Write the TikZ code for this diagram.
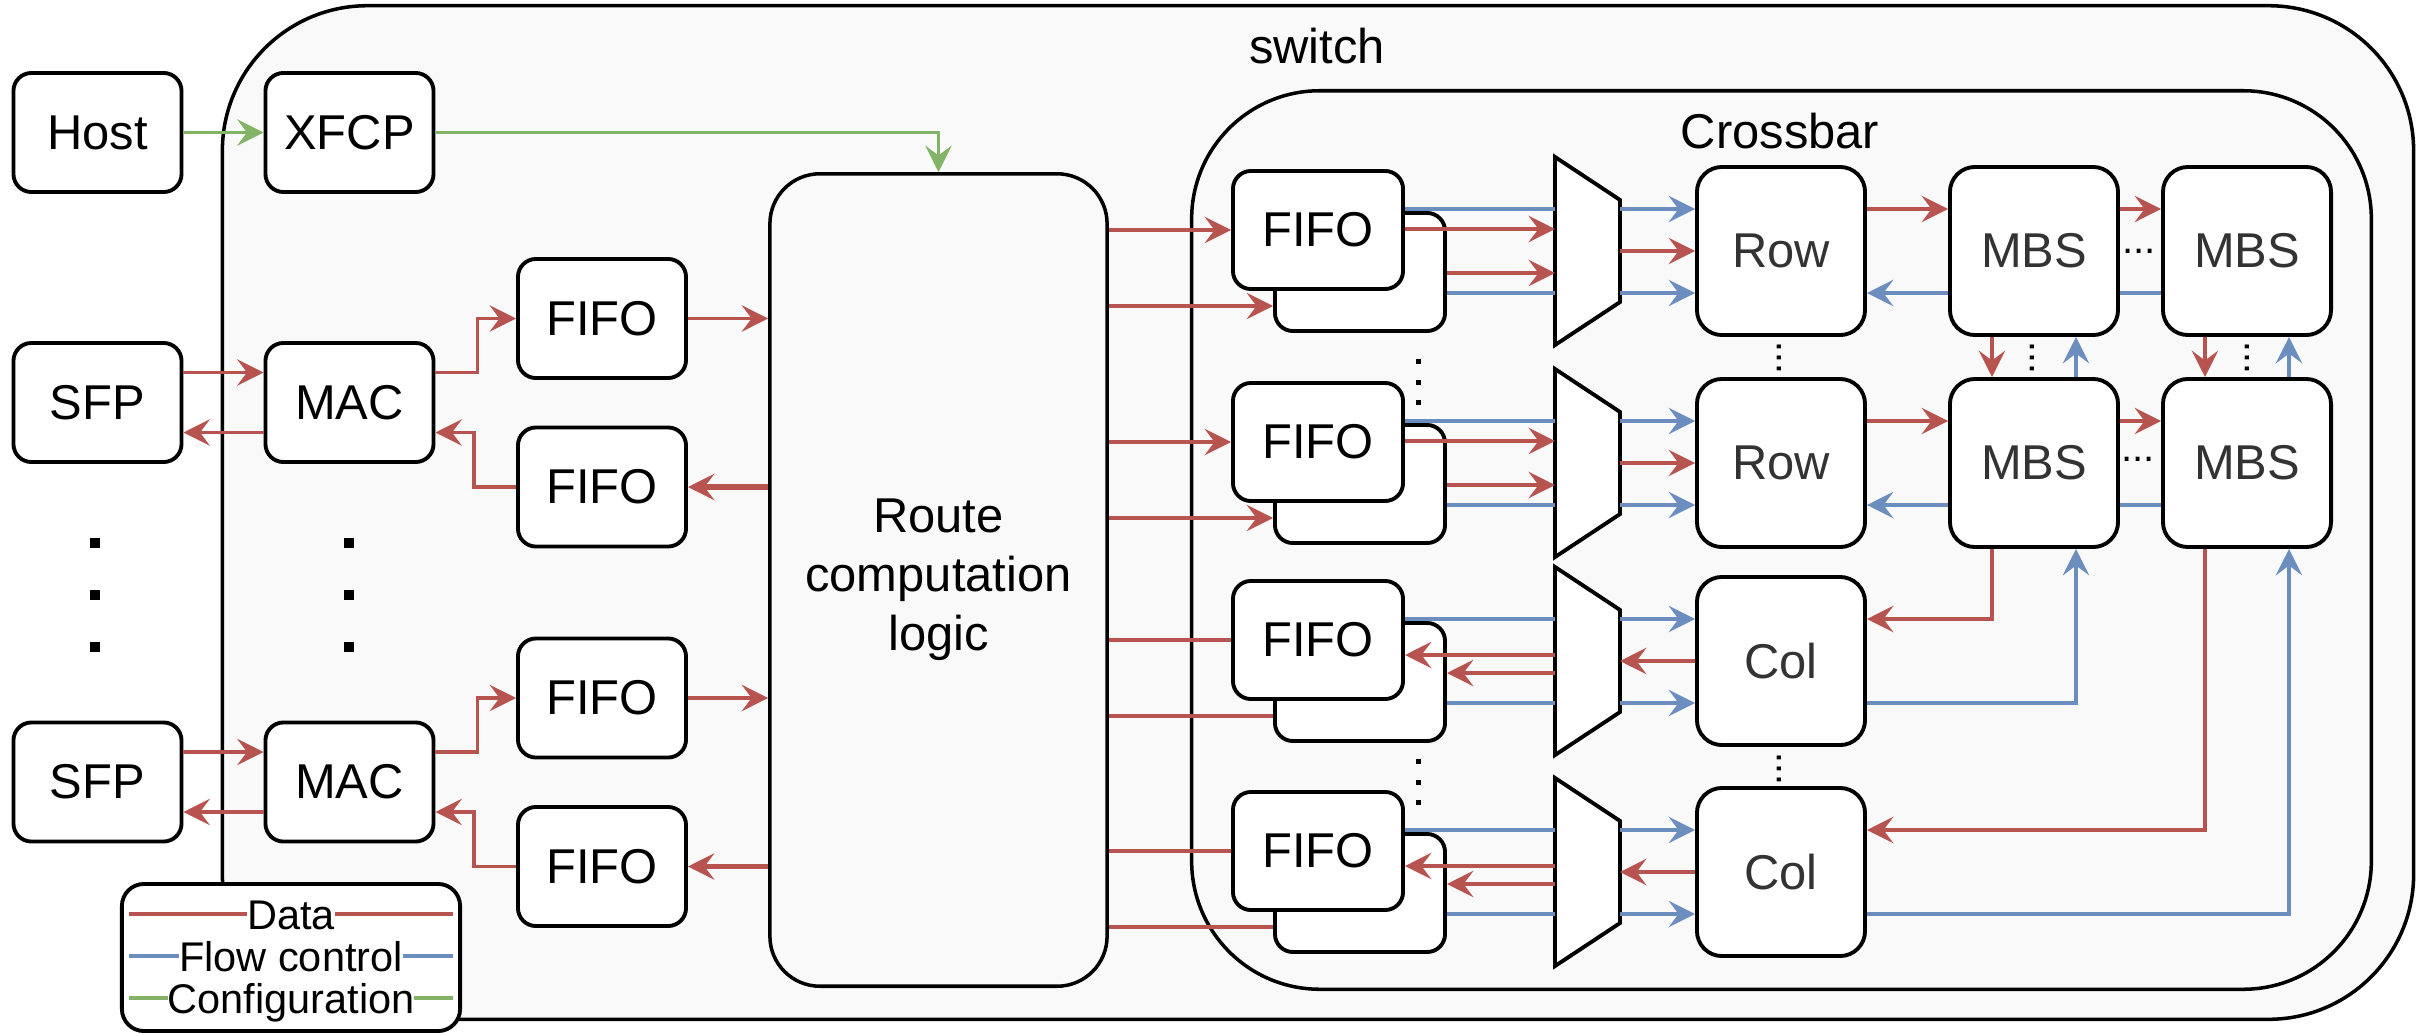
\documentclass[tikz,border=0pt]{standalone}
\usepackage{fontspec}
\setmainfont{Liberation Sans}
\usetikzlibrary{arrows.meta,calc}

\definecolor{datared}{HTML}{B85450}
\definecolor{flowblue}{HTML}{6C8EBF}
\definecolor{cfggreen}{HTML}{82B366}
\definecolor{panelgray}{HTML}{F9F9F9}
\definecolor{textgray}{HTML}{333333}

\newcommand{\blockfont}{\fontsize{13.9}{16.8}\selectfont}
\newcommand{\legendfont}{\fontsize{11.8}{14}\selectfont}

\begin{document}
\begin{tikzpicture}[x=0.01cm, y=-0.01cm, >={Stealth[length=7.5pt,width=7.5pt,inset=2.8pt]},
  panel/.style={draw, line width=1pt, fill=panelgray, inner sep=0pt},
  blk/.style={draw, line width=1.1pt, fill=white, rounded corners=0.18cm, inner sep=0pt, minimum width=1.68cm, minimum height=1.19cm, font=\blockfont},
  fifo/.style={blk, minimum width=1.70cm, minimum height=1.18cm},
  cell/.style={blk, rounded corners=0.25cm, minimum width=1.68cm, minimum height=1.68cm, text=textgray},
  muxslot/.style={inner sep=0pt, outer sep=0pt, minimum width=0.65cm, minimum height=1.88cm},
  dt/.style={->, datared, line width=1pt},
  dtline/.style={datared, line width=1pt},
  fc/.style={->, flowblue, line width=1pt},
  fcline/.style={flowblue, line width=1pt},
  cfg/.style={->, cfggreen, line width=0.8pt},
  cfgline/.style={cfggreen, line width=1pt},
  dotsym/.style={inner sep=0pt, font=\fontsize{11.4}{12}\selectfont},
]
\useasboundingbox (0,0) rectangle (2432,1033);

\node[panel, rounded corners=1.45cm, minimum width=21.90cm, minimum height=10.13cm] (sw) at (1318,512.5) {};
\node[font=\blockfont, anchor=base] (swname) at (1317,63) {switch};

\node[blk] (host) at (97.5,132.5) {Host};
\node[blk] (xfcp) at (349.5,132.5) {XFCP};
\node[blk] (sfpA) at (97.5,402.5) {SFP};
\node[blk] (macA) at (349.5,402.5) {MAC};
\node[blk] (sfpB) at (97.5,782) {SFP};
\node[blk] (macB) at (349.5,782) {MAC};
\node[blk] (rxA) at (602,318.5) {FIFO};
\node[blk] (txA) at (602,487) {FIFO};
\node[blk] (rxB) at (602,698) {FIFO};
\node[blk] (txB) at (602,866.5) {FIFO};

\node[panel, rounded corners=0.5cm, minimum width=3.37cm, minimum height=8.12cm, align=center, font=\blockfont] (route) at (938.5,580) {Route\\computation\\logic};

\node[panel, rounded corners=1.28cm, minimum width=11.79cm, minimum height=8.98cm] (xbar) at (1781.5,540) {};
\node[font=\blockfont, anchor=base] (xbarname) at (1780,148) {Crossbar};

\foreach \g/\y in {A/230,B/442,C/640,D/851} {
  \node[fifo] (qb\g) at (1360,\y+42) {};
  \node[fifo] (qf\g) at (1318,\y) {FIFO};
}

\foreach \g/\y in {A/251,B/463,C/661,D/872} {
  \node[muxslot] (mux\g) at (1587.5,\y) {};
  \draw[line width=1.1pt, fill=white] (mux\g.north west) -- ($(mux\g.north east)+(0,43)$) -- ($(mux\g.south east)+(0,-43)$) -- (mux\g.south west) -- cycle;
}

\node[cell] (rowA) at (1781,251) {Row};
\node[cell] (rowB) at (1781,463) {Row};
\node[cell] (colC) at (1781,661) {Col};
\node[cell] (colD) at (1781,872) {Col};
\node[cell] (mbs11) at (2034,251) {MBS};
\node[cell] (mbs12) at (2247,251) {MBS};
\node[cell] (mbs21) at (2034,463) {MBS};
\node[cell] (mbs22) at (2247,463) {MBS};

\foreach \g in {A,B}
  \path (mux\g) ++(0,-42) coordinate (lv\g1) ++(0,20) coordinate (lv\g2) ++(0,44) coordinate (lv\g3) ++(0,20) coordinate (lv\g4);
\foreach \g in {C,D}
  \path (mux\g) ++(0,-42) coordinate (lv\g1) ++(0,36) coordinate (lv\g2) ++(0,18) coordinate (lv\g3) ++(0,30) coordinate (lv\g4);

\draw[cfg] (host) -- (xfcp);
\draw[cfg] (xfcp) -| (route);

\foreach \p in {A,B} {
  \draw[dt] ($(sfp\p.east)+(0,-30)$) -- ($(mac\p.west)+(0,-30)$);
  \draw[dt] ($(mac\p.west)+(0,30)$) -- ($(sfp\p.east)+(0,30)$);
  \draw[dt] ($(mac\p.east)+(0,-30)$) -- ++(42,0) |- (rx\p.west);
  \draw[dt] (tx\p.west) -- ++(-42,0) |- ($(mac\p.east)+(0,30)$);
  \draw[dt] (rx\p.east) -- (rx\p.east -| route.west);
  \draw[dt, line width=1.5pt] (route.west |- tx\p.east) -- (tx\p.east);
}

\foreach \g in {A,B} {
  \path (qb\g.west) ++(0,34) coordinate (in\g);
  \draw[dt] (route.east |- qf\g.west) -- (qf\g.west);
  \draw[dt] (route.east |- in\g) -- (in\g);
  \draw[fcline] (qf\g.east |- lv\g1) -- (mux\g.west |- lv\g1);
  \draw[dt] (qf\g.east |- lv\g2) -- (mux\g.west |- lv\g2);
  \draw[dt] (qb\g.east |- lv\g3) -- (mux\g.west |- lv\g3);
  \draw[fcline] (qb\g.east |- lv\g4) -- (mux\g.west |- lv\g4);
  \draw[fc] (mux\g.east |- lv\g1) -- (row\g.west |- lv\g1);
  \draw[dt] (mux\g.east) -- (row\g.west);
  \draw[fc] (mux\g.east |- lv\g4) -- (row\g.west |- lv\g4);
}

\foreach \g in {C,D} {
  \path (qb\g.west) ++(0,34) coordinate (in\g);
  \draw[dtline] (route.east |- qf\g.west) -- (qf\g.west);
  \draw[dtline] (route.east |- in\g) -- (in\g);
  \draw[fcline] (qf\g.east |- lv\g1) -- (mux\g.west |- lv\g1);
  \draw[dt] (mux\g.west |- lv\g2) -- (qf\g.east |- lv\g2);
  \draw[dt] (mux\g.west |- lv\g3) -- (qb\g.east |- lv\g3);
  \draw[fcline] (qb\g.east |- lv\g4) -- (mux\g.west |- lv\g4);
  \draw[fc] (mux\g.east |- lv\g1) -- (col\g.west |- lv\g1);
  \draw[dt] (col\g.west) -- (mux\g.east);
  \draw[fc] (mux\g.east |- lv\g4) -- (col\g.west |- lv\g4);
}

\foreach \g/\a/\b in {A/11/12,B/21/22} {
  \draw[dt] (row\g.east |- lv\g1) -- (mbs\a.west |- lv\g1);
  \draw[fc] (mbs\a.west |- lv\g4) -- (row\g.east |- lv\g4);
  \draw[dt] (mbs\a.east |- lv\g1) -- (mbs\b.west |- lv\g1);
  \draw[fcline] (mbs\b.west |- lv\g4) -- (mbs\a.east |- lv\g4);
}
\foreach \t/\u in {11/21,12/22} {
  \draw[dt] ($(mbs\t.south)+(-42,0)$) -- ($(mbs\u.north)+(-42,0)$);
  \draw[fc] ($(mbs\u.north)+(42,0)$) -- ($(mbs\t.south)+(42,0)$);
}
\draw[dt] ($(mbs21.south)+(-42,0)$) |- (colC.east |- lvC1);
\draw[fc] (colC.east |- lvC4) -| ($(mbs21.south)+(42,0)$);
\draw[dt] ($(mbs22.south)+(-42,0)$) |- (colD.east |- lvD1);
\draw[fc] (colD.east |- lvD4) -| ($(mbs22.south)+(42,0)$);

\foreach \x in {95,349}
  \foreach \y in {543,595,647}
    \fill (\x-5,\y-5) rectangle ++(10,10);
\foreach \y in {361,382,402,761,782,802}
  \fill (1415.5,\y-2.5) rectangle ++(5,5);

\node[dotsym, rotate=90] (rowdots) at (1779,358) {...};
\node[dotsym, rotate=90] (coldots) at (1779,769) {...};
\node[dotsym, rotate=90] (mbsdotsA) at (2032,358) {...};
\node[dotsym, rotate=90] (mbsdotsB) at (2247,358) {...};
\node[dotsym] (mbsdotsC) at (2139,251) {...};
\node[dotsym] (mbsdotsD) at (2138,459) {...};

\node[draw, line width=1.1pt, fill=white, rounded corners=0.22cm, minimum width=3.38cm, minimum height=1.47cm] (legend) at (291,957.5) {};
\draw[dtline] ($(legend.west)+(9,-43.5)$) -- ($(legend.east)+(-9,-43.5)$);
\draw[fcline] ($(legend.west)+(9,-1.5)$) -- ($(legend.east)+(-9,-1.5)$);
\draw[cfgline] ($(legend.west)+(9,40.5)$) -- ($(legend.east)+(-9,40.5)$);
\node[font=\legendfont, fill=white, inner sep=0pt, anchor=base] (legdata) at ($(legend.center)+(0,-28.5)$) {Data};
\node[font=\legendfont, fill=white, inner sep=0pt, anchor=base] (legflow) at ($(legend.center)+(0,13.5)$) {Flow control};
\node[font=\legendfont, fill=white, inner sep=0pt, anchor=base] (legcfg) at ($(legend.center)+(0,55.5)$) {Configuration};
\end{tikzpicture}
\end{document}
